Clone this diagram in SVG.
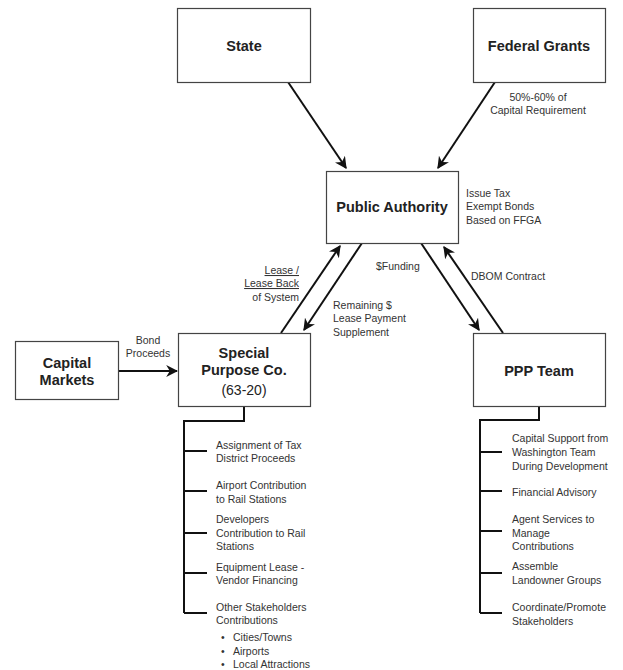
<svg xmlns="http://www.w3.org/2000/svg" width="623" height="670" viewBox="0 0 623 670">
<style>
.box{fill:#fff;stroke:#444;stroke-width:1.2}
.t{font-family:"Liberation Sans",Arial,sans-serif;fill:#222}
.b{font-weight:bold;font-size:14.5px;text-anchor:middle}
.s{font-size:10.5px;fill:#333}
.c{text-anchor:middle}
.r{text-anchor:end}
.arr{stroke:#111;stroke-width:2;fill:none;marker-end:url(#ah)}
.ln{stroke:#111;stroke-width:2;fill:none}
</style>
<defs>
<marker id="ah" viewBox="0 0 10 10" refX="9" refY="5" markerWidth="6" markerHeight="6" orient="auto" markerUnits="strokeWidth">
<path d="M0,0 L10,5 L0,10 L3,5 z" fill="#111"/>
</marker>
</defs>
<rect width="623" height="670" fill="#fff"/>
<g id="connectors">
<path class="arr" d="M288,82 L346,168"/>
<path class="arr" d="M495,82 L438,168"/>
<path class="arr" d="M281,333 L340,246"/>
<path class="arr" d="M362,243 L304,330"/>
<path class="arr" d="M421,243 L479,330"/>
<path class="arr" d="M503,333 L444,247"/>
<path class="arr" d="M118,371 L177,371"/>
<path class="ln" d="M244,406 V421 H184 V613"/>
<path class="ln" d="M184,451 H207 M184,491 H207 M184,533 H207 M184,573 H207 M184,613 H207"/>
<path class="ln" d="M539,406 V420 H480 V613"/>
<path class="ln" d="M480,452 H502 M480,491 H502 M480,531 H502 M480,573 H502 M480,613 H502"/>
</g>
<g id="labels" class="t s">
<text class="c" x="538" y="101">50%-60% of</text>
<text class="c" x="538" y="114">Capital Requirement</text>
<text x="466" y="197">Issue Tax</text>
<text x="466" y="210">Exempt Bonds</text>
<text x="466" y="224">Based on FFGA</text>
<text class="r" x="299" y="274" text-decoration="underline">Lease /</text>
<text class="r" x="299" y="287" text-decoration="underline">Lease Back</text>
<text class="r" x="299" y="301">of System</text>
<text x="333" y="309">Remaining $</text>
<text x="333" y="322">Lease Payment</text>
<text x="333" y="336">Supplement</text>
<text x="376" y="270">$Funding</text>
<text x="471" y="280">DBOM Contract</text>
<text class="c" x="148" y="344">Bond</text>
<text class="c" x="148" y="357">Proceeds</text>
</g>
<g id="state"><rect class="box" x="177.5" y="8.5" width="133" height="74"/><text class="t b" x="244" y="51">State</text></g>
<g id="federal"><rect class="box" x="473.5" y="8.5" width="132" height="74"/><text class="t b" x="539" y="51">Federal Grants</text></g>
<g id="public"><rect class="box" x="326.5" y="171.5" width="132" height="72"/><text class="t b" x="392" y="212">Public Authority</text></g>
<g id="capital"><rect class="box" x="15.5" y="341.5" width="103" height="58"/><text class="t b" x="67" y="368">Capital</text><text class="t b" x="67" y="385">Markets</text></g>
<g id="spc"><rect class="box" x="178.5" y="333.5" width="132" height="73"/><text class="t b" x="244" y="358">Special</text><text class="t b" x="244" y="375">Purpose Co.</text><text class="t c" x="244" y="395" font-size="14">(63-20)</text></g>
<g id="ppp"><rect class="box" x="473.5" y="333.5" width="132" height="73"/><text class="t b" x="539" y="376">PPP Team</text></g>
<g id="spc-list" class="t s">
<text x="216" y="449">Assignment of Tax</text>
<text x="216" y="462">District Proceeds</text>
<text x="216" y="489">Airport Contribution</text>
<text x="216" y="503">to Rail Stations</text>
<text x="216" y="523">Developers</text>
<text x="216" y="537">Contribution to Rail</text>
<text x="216" y="550">Stations</text>
<text x="216" y="571">Equipment Lease -</text>
<text x="216" y="584">Vendor Financing</text>
<text x="216" y="611">Other Stakeholders</text>
<text x="216" y="624">Contributions</text>
<text x="221" y="641">•</text><text x="233" y="641">Cities/Towns</text>
<text x="221" y="655">•</text><text x="233" y="655">Airports</text>
<text x="221" y="668">•</text><text x="233" y="668">Local Attractions</text>
</g>
<g id="ppp-list" class="t s">
<text x="512" y="442">Capital Support from</text>
<text x="512" y="456">Washington Team</text>
<text x="512" y="470">During Development</text>
<text x="512" y="496">Financial Advisory</text>
<text x="512" y="523">Agent Services to</text>
<text x="512" y="537">Manage</text>
<text x="512" y="550">Contributions</text>
<text x="512" y="570">Assemble</text>
<text x="512" y="584">Landowner Groups</text>
<text x="512" y="611">Coordinate/Promote</text>
<text x="512" y="625">Stakeholders</text>
</g>
</svg>
